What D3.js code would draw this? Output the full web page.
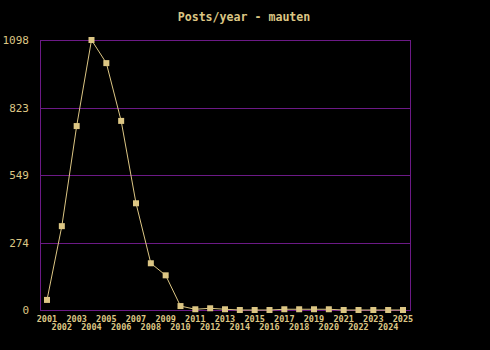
<!DOCTYPE html>
<html>
<head>
<meta charset="utf-8">
<script src="https://cdn.jsdelivr.net/npm/d3@7"></script>
<style>
  body { margin: 0; background: #000; }
  svg { display: block; }
</style>
</head>
<body>
<div id="chart"></div>
<script>
// data
const years = d3.range(2001, 2026);
const posts = [41, 341, 748, 1098, 1004, 769, 434, 190, 141, 16, 3, 7, 3, 0, 0, 0, 3, 3, 3, 3, 0, 0, 0, 0, 0];
const yTicks = [0, 274, 549, 823, 1098];

const width = 490, height = 350;
const margin = { top: 40, right: 80, bottom: 40, left: 40 };
const ink = "#dcc684";
const grid = "#6c1a86";

const svg = d3.select("#chart").append("svg")
  .attr("width", width)
  .attr("height", height)
  .style("background", "#000");

const x = d3.scalePoint()
  .domain(years)
  .range([margin.left + 7, width - margin.right - 7]);

const y = d3.scaleLinear()
  .domain([0, 1098])
  .range([height - margin.bottom, margin.top]);

// title
svg.append("text")
  .attr("x", 244)
  .attr("y", 21)
  .attr("text-anchor", "middle")
  .text("Posts/year - mauten")
  .style("fill", ink)
  .style("font-family", "DejaVu Sans Mono")
  .style("font-weight", "bold")
  .style("font-size", "11.6px");

// horizontal grid lines
svg.append("g")
  .selectAll("line")
  .data(yTicks)
  .join("line")
  .attr("x1", margin.left)
  .attr("x2", width - margin.right)
  .attr("y1", d => Math.round(y(d)) + 0.5)
  .attr("y2", d => Math.round(y(d)) + 0.5)
  .style("stroke", grid)
  .style("stroke-width", 1);

// frame: left and right sides
[margin.left, width - margin.right].forEach(px => {
  svg.append("line")
    .attr("x1", px + 0.5)
    .attr("x2", px + 0.5)
    .attr("y1", y(1098))
    .attr("y2", y(0) + 1)
    .style("stroke", grid)
    .style("stroke-width", 1);
});

// y labels
svg.append("g")
  .selectAll("text")
  .data(yTicks)
  .join("text")
  .attr("x", margin.left - 11)
  .attr("y", d => y(d) + 4)
  .attr("text-anchor", "end")
  .text(d => d)
  .style("fill", ink)
  .style("font-family", "DejaVu Sans Mono")
  .style("font-size", "11px");

// x labels, staggered over two rows
svg.append("g")
  .selectAll("text")
  .data(years)
  .join("text")
  .attr("x", d => x(d))
  .attr("y", (d, i) => i % 2 === 0 ? 322 : 330)
  .attr("text-anchor", "middle")
  .text(d => d)
  .style("fill", ink)
  .style("font-family", "DejaVu Sans Mono")
  .style("font-weight", "bold")
  .style("font-size", "8.5px");

// line
const line = d3.line()
  .x((d, i) => x(years[i]))
  .y(d => y(d));

svg.append("path")
  .datum(posts)
  .attr("d", line)
  .style("fill", "none")
  .style("stroke", ink)
  .style("stroke-width", 1);

// square markers
svg.append("g")
  .selectAll("rect")
  .data(posts)
  .join("rect")
  .attr("x", (d, i) => x(years[i]) - 3)
  .attr("y", d => y(d) - 3)
  .attr("width", 6)
  .attr("height", 6)
  .style("fill", ink);
</script>
</body>
</html>
